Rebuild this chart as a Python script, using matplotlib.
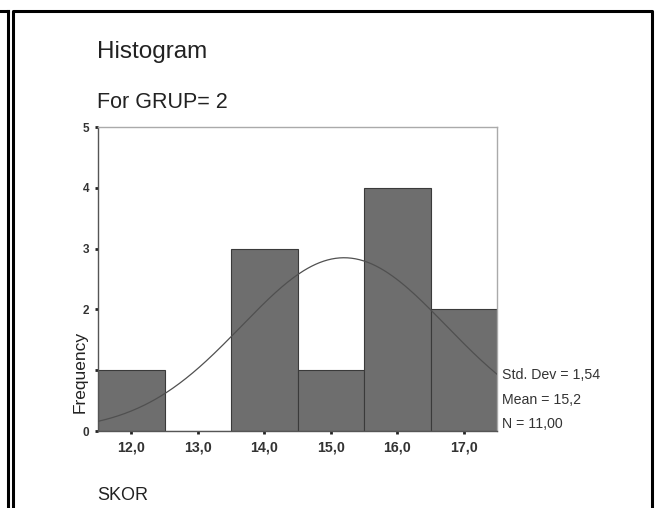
import numpy as np
import matplotlib
matplotlib.use("Agg")
import matplotlib.pyplot as plt
from matplotlib.lines import Line2D

plt.rcParams['font.family'] = ['Liberation Sans', 'DejaVu Sans']

# Données
categories = [12.0, 13.0, 14.0, 15.0, 16.0, 17.0]
frequencies = [1, 0, 3, 1, 4, 2]
tick_labels = ["12,0", "13,0", "14,0", "15,0", "16,0", "17,0"]
y_ticks = [0, 1, 2, 3, 4, 5]
y_tick_labels = ["0", "", "2", "3", "4", "5"]  # le "1" est caché par "Frequency"
mean = 15.2
std_dev = 1.54
n_obs = 11
stats_lines = ["Std. Dev = 1,54", "Mean = 15,2", "N = 11,00"]

W, H = 656, 508
fig = plt.figure(figsize=(W / 100, H / 100), dpi=100)


def fx(px):
    return px / W


def fy(py):
    return 1 - py / H


# cadres noirs (panneau précédent + panneau principal)
border = dict(color="black", lw=2.2, transform=fig.transFigure, clip_on=False)
fig.add_artist(Line2D([fx(0), fx(8)], [fy(11), fy(11)], **border))
fig.add_artist(Line2D([fx(8), fx(8)], [fy(11), fy(510)], **border))
fig.add_artist(Line2D([fx(13), fx(13), fx(652), fx(652)],
                      [fy(510), fy(11), fy(11), fy(510)], **border))

# zone du graphique
left, right, top, bottom = 98, 497, 127, 431
ax = fig.add_axes([fx(left), fy(bottom), fx(right - left), (bottom - top) / H])

ax.bar(categories, frequencies, width=1.0, color="#6e6e6e",
       edgecolor="#3a3a3a", linewidth=0.8, zorder=2)

# courbe normale
xs = np.linspace(11.5, 17.5, 300)
curve = n_obs * 1.0 / (std_dev * np.sqrt(2 * np.pi)) * np.exp(-0.5 * ((xs - mean) / std_dev) ** 2)
ax.plot(xs, curve, color="#505050", lw=0.9, zorder=3)

ax.set_xlim(11.5, 17.5)
ax.set_ylim(0, 5)
ax.set_xticks(categories)
ax.set_xticklabels(tick_labels, fontsize=10.3, fontweight="bold", color="#333333")
ax.set_yticks(y_ticks)
ax.set_yticklabels(y_tick_labels, fontsize=8.5, fontweight="bold", color="#333333")
ax.tick_params(axis="both", length=2.5, width=2, color="#222222", pad=4)

ax.spines["left"].set_color("#555555")
ax.spines["bottom"].set_color("#555555")
ax.spines["top"].set_color("#aaaaaa")
ax.spines["right"].set_color("#aaaaaa")
for s in ax.spines.values():
    s.set_linewidth(1.0)

# textes
fig.text(fx(97), fy(52), "Histogram", fontsize=17.5, color="#222222", va="center", ha="left")
fig.text(fx(97), fy(103), "For GRUP= 2", fontsize=15.5, color="#222222", va="center", ha="left")
fig.text(fx(97), fy(495), "SKOR", fontsize=13, color="#222222", va="center", ha="left")
fig.text(fx(80), fy(372), "Frequency", fontsize=12.5, color="#222222", rotation=90,
         va="center", ha="center")

for i, line in enumerate(stats_lines):
    fig.text(fx(502), fy(375 + i * 24.5), line, fontsize=10.2, color="#333333",
             va="center", ha="left")

fig.savefig("out.png", dpi=100, facecolor="white")
